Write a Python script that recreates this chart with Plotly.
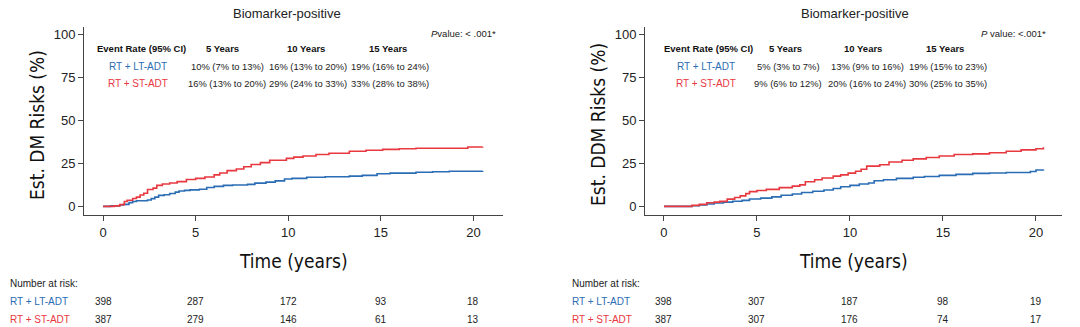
import plotly.graph_objects as go

W, H = 1080, 327

# ---------------- data ----------------
panel_titles = ["Biomarker-positive", "Biomarker-positive"]
y_titles = ["Est. DM Risks (%)", "Est. DDM Risks (%)"]
p_texts = ["<i>P</i>value: < .001*", "<i>P</i> value: <.001*"]
groups = ["RT + LT-ADT", "RT + ST-ADT"]
header = ["Event Rate (95% CI)", "5 Years", "10 Years", "15 Years"]

# Panel 1 (DM)
dm_lt_t = [0, 0.4, 0.9, 1.1, 1.4, 1.6, 1.8, 2.4, 2.6, 2.8, 3.0, 3.3, 3.6, 3.9, 4.1, 4.4, 4.7, 5.2, 5.6, 6.0, 6.5, 7.0, 7.8, 8.2, 8.8, 9.3, 9.8, 10.2, 11.0, 12.0, 13.3, 14.0, 14.8, 15.5, 16.9, 17.8, 18.7, 20.5]
dm_lt_v = [0, 0.3, 0.8, 1.2, 2.2, 2.8, 3.3, 3.7, 4.5, 5.4, 6.4, 6.8, 7.5, 8.3, 8.9, 9.3, 9.6, 10.0, 11.0, 11.6, 12.2, 12.4, 12.8, 13.5, 14.1, 14.8, 15.9, 16.3, 16.9, 17.2, 17.6, 18.0, 19.0, 19.3, 19.8, 20.1, 20.4, 20.5]
dm_st_t = [0, 0.6, 0.9, 1.15, 1.3, 1.6, 1.8, 2.0, 2.2, 2.4, 2.7, 2.9, 3.2, 3.6, 4.0, 4.5, 5.0, 5.5, 6.0, 6.3, 6.7, 7.2, 7.6, 8.0, 8.5, 9.0, 9.9, 10.3, 10.8, 11.5, 12.2, 13.3, 14.2, 15.1, 16.0, 16.9, 19.7, 20.5]
dm_st_v = [0, 0.3, 1.0, 2.8, 3.6, 4.6, 5.4, 6.6, 7.6, 9.8, 10.6, 12.2, 13.0, 13.6, 14.4, 15.6, 16.3, 17.1, 18.3, 19.4, 20.8, 21.7, 23.0, 24.3, 25.4, 26.8, 27.9, 28.6, 29.3, 30.1, 30.9, 32.0, 32.6, 33.1, 33.5, 33.8, 34.5, 34.7]

# Panel 2 (DDM)
ddm_lt_t = [0, 1.5, 1.9, 2.3, 2.7, 3.2, 3.7, 4.2, 4.6, 5.2, 5.8, 6.3, 6.9, 7.4, 8.0, 8.6, 9.1, 9.5, 10.0, 10.5, 11.0, 11.3, 11.8, 12.5, 13.4, 14.0, 14.8, 15.7, 16.6, 17.5, 18.4, 19.7, 20.0, 20.4]
ddm_lt_v = [0, 0.4, 0.9, 1.4, 2.0, 2.5, 3.0, 3.5, 4.3, 4.8, 5.5, 6.5, 7.2, 8.1, 8.8, 9.5, 10.4, 11.4, 12.2, 13.0, 13.6, 14.9, 15.5, 16.3, 16.9, 17.4, 18.0, 18.6, 19.2, 19.4, 19.7, 20.3, 21.1, 21.5]
ddm_st_t = [0, 1.5, 1.9, 2.3, 2.7, 3.0, 3.4, 3.8, 4.1, 4.4, 4.6, 5.0, 5.5, 6.2, 6.9, 7.3, 7.6, 8.1, 8.5, 9.1, 9.5, 9.9, 10.3, 10.6, 10.9, 11.6, 12.1, 12.8, 13.4, 14.1, 14.8, 15.6, 16.6, 17.5, 18.4, 19.2, 20.0, 20.4]
ddm_st_v = [0, 0.6, 1.2, 2.1, 2.5, 2.9, 4.2, 5.2, 6.1, 7.4, 8.6, 9.2, 9.9, 10.9, 11.8, 12.5, 14.3, 15.5, 16.5, 17.6, 18.3, 19.3, 20.4, 21.6, 23.4, 24.2, 25.8, 26.8, 27.6, 28.4, 29.3, 30.1, 30.5, 31.2, 32.0, 32.8, 33.5, 34.3]

rates = [
    [["10% (7% to 13%)", "16% (13% to 20%)", "19% (16% to 24%)"],
     ["16% (13% to 20%)", "29% (24% to 33%)", "33% (28% to 38%)"]],
    [["5% (3% to 7%)", "13% (9% to 16%)", "19% (15% to 23%)"],
     ["9% (6% to 12%)", "20% (16% to 24%)", "30% (25% to 35%)"]],
]

risk_times = [0, 5, 10, 15, 20]
risk = [
    [[398, 287, 172, 93, 18], [387, 279, 146, 61, 13]],
    [[398, 307, 187, 98, 19], [387, 307, 176, 74, 17]],
]

curves = [
    [(dm_lt_t, dm_lt_v), (dm_st_t, dm_st_v)],
    [(ddm_lt_t, ddm_lt_v), (ddm_st_t, ddm_st_v)],
]

# ---------------- style ----------------
BLUE = "#2a6db4"
RED = "#e8383f"
colors = [BLUE, RED]
FONT = "Liberation Sans, Arial, Helvetica, sans-serif"
NARROW = "Liberation Sans Narrow, DejaVu Sans Condensed, Roboto, sans-serif"

def px(x):
    return x / W

def py(y):
    return 1 - y / H

x_domains = [[px(84), px(503)], [px(645), px(1062)]]
x_ranges = [[-1.03, 21.6], [-1.02, 21.4]]
y_domain = [py(215), py(27)]

fig = go.Figure()
annotations = []

for i in range(2):
    xa = "x" if i == 0 else "x2"
    ya = "y" if i == 0 else "y2"
    for g in range(2):
        t, v = curves[i][g]
        fig.add_trace(go.Scatter(x=t, y=v, mode="lines", line=dict(color=colors[g], width=1.6, shape="hv"),
                                 xaxis=xa, yaxis=ya, showlegend=False, hoverinfo="skip"))

    cx = [287, 855][i]
    annotations.append(dict(text=panel_titles[i], x=px(cx), y=py(13), xref="paper", yref="paper",
                            showarrow=False, font=dict(family=FONT, size=13, color="#222"),
                            xanchor="center", yanchor="middle"))
    pr = [498, 1048][i]
    annotations.append(dict(text=p_texts[i], x=px(pr), y=py(34), xref="paper", yref="paper",
                            showarrow=False, font=dict(family=FONT, size=9.5, color="#222"),
                            xanchor="right", yanchor="middle"))
    hx = [[141, 222, 306, 388], [708, 785, 863, 945]][i]
    vx = [[138, 227, 308, 390], [706, 788, 867, 948]][i]
    for k, h in enumerate(header):
        annotations.append(dict(text="<b>%s</b>" % h, x=px(hx[k]), y=py(48), xref="paper", yref="paper",
                                showarrow=False, font=dict(family=FONT, size=9.5, color="#111"),
                                xanchor="center", yanchor="middle"))
    for g in range(2):
        yy = [66, 83][g]
        annotations.append(dict(text=groups[g], x=px(vx[0]), y=py(yy), xref="paper", yref="paper",
                                showarrow=False, font=dict(family=FONT, size=10, color=colors[g]),
                                xanchor="center", yanchor="middle"))
        for k in range(3):
            annotations.append(dict(text=rates[i][g][k], x=px(vx[k + 1]), y=py(yy), xref="paper", yref="paper",
                                    showarrow=False, font=dict(family=FONT, size=9.4, color="#222"),
                                    xanchor="center", yanchor="middle"))
    lx = [8, 570][i]
    annotations.append(dict(text="Number at risk:", x=px(lx), y=py(283), xref="paper", yref="paper",
                            showarrow=False, font=dict(family=FONT, size=10, color="#222"),
                            xanchor="left", yanchor="middle"))
    for g in range(2):
        yy = [301, 319][g]
        annotations.append(dict(text=groups[g], x=px(lx), y=py(yy), xref="paper", yref="paper",
                                showarrow=False, font=dict(family=FONT, size=10, color=colors[g]),
                                xanchor="left", yanchor="middle"))
        for k, tt in enumerate(risk_times):
            annotations.append(dict(text=str(risk[i][g][k]), x=tt, y=py(yy), xref=xa, yref="paper",
                                    showarrow=False, font=dict(family=FONT, size=10, color="#222"),
                                    xanchor="center", yanchor="middle"))
    annotations.append(dict(text="Time (years)", x=[293, 853][i] / W, y=py(261), xref="paper", yref="paper",
                            showarrow=False, font=dict(family=NARROW, size=19, color="#111"),
                            xanchor="center", yanchor="middle"))
    annotations.append(dict(text=y_titles[i], x=px([37, 598][i]), y=py(125), xref="paper", yref="paper",
                            showarrow=False, textangle=-90, font=dict(family=NARROW, size=19, color="#111"),
                            xanchor="center", yanchor="middle"))

axis_common = dict(showgrid=False, zeroline=False, showline=True, linecolor="#444", linewidth=1,
                   ticks="outside", ticklen=5, tickcolor="#444", tickwidth=1,
                   tickfont=dict(family=FONT, size=13, color="#222"))

layout = dict(
    width=W, height=H, margin=dict(l=0, r=0, t=0, b=0),
    paper_bgcolor="white", plot_bgcolor="white", annotations=annotations,
)
for i in range(2):
    sx = "" if i == 0 else "2"
    layout["xaxis" + sx] = dict(axis_common, domain=x_domains[i], range=x_ranges[i],
                                tickvals=[0, 5, 10, 15, 20], anchor="y" + sx)
    layout["yaxis" + sx] = dict(axis_common, domain=y_domain, range=[-5, 104.2],
                                tickvals=[0, 25, 50, 75, 100], anchor="x" + sx)

fig.update_layout(**layout)
fig.write_html("out.html")
